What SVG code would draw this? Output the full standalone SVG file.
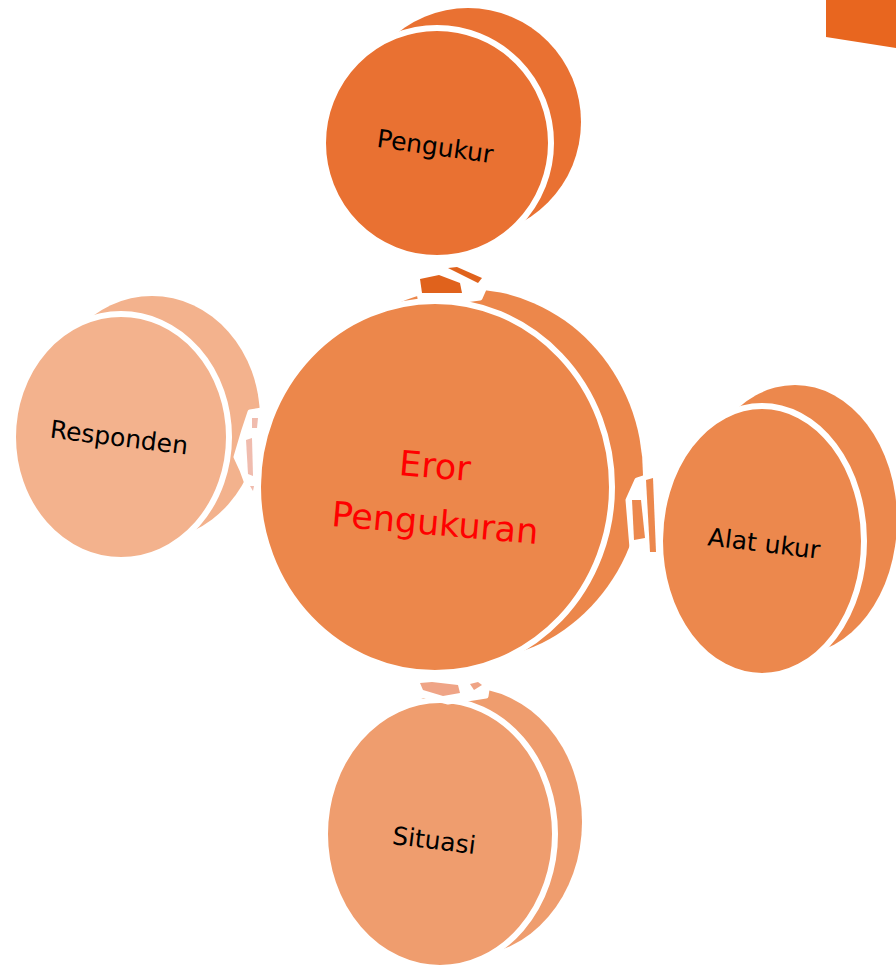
<svg xmlns="http://www.w3.org/2000/svg" width="896" height="970" viewBox="0 0 896 970">
  <style>
    .rim { stroke: none; }
    .face { stroke: #ffffff; stroke-width: 6; }
    .lbl { font-family: "DejaVu Sans", Verdana, sans-serif; font-size: 25px; fill: #000000; text-anchor: middle; }
    .hub { font-family: "DejaVu Sans", Verdana, sans-serif; font-size: 35px; fill: #ff0000; text-anchor: middle; }
    .conn { stroke: #ffffff; stroke-width: 5; stroke-linejoin: round; }
  </style>

  <!-- corner tab -->
  <polygon points="826,0 896,0 896,48 826,37" fill="#e8661f"/>

  <!-- Responden -->
  <g id="node-responden">
    <ellipse class="rim" cx="152" cy="418" rx="108" ry="122" fill="#f3b28d"/>
    <ellipse class="face" cx="121" cy="437" rx="108" ry="123" fill="#f3b28d"/>
    <text class="lbl" transform="translate(118,446) rotate(7)">Responden</text>
  </g>

  <!-- Alat ukur -->
  <g id="node-alat-ukur">
    <ellipse class="rim" cx="795" cy="520" rx="102" ry="135" fill="#ec884d"/>
    <ellipse class="face" cx="762" cy="541" rx="102" ry="135" fill="#ec884d"/>
    <text class="lbl" transform="translate(763,552) rotate(7)">Alat ukur</text>
  </g>

  <!-- Situasi -->
  <g id="node-situasi">
    <ellipse class="rim" cx="467" cy="822" rx="115" ry="134" fill="#ef9d6e"/>
    <ellipse class="face" cx="440" cy="834" rx="115" ry="134" fill="#ef9d6e"/>
    <text class="lbl" transform="translate(433,849) rotate(7)">Situasi</text>
  </g>

  <!-- Eror Pengukuran (hub) -->
  <g id="node-hub">
    <ellipse class="rim" cx="466" cy="475" rx="177" ry="186" fill="#ec874b"/>
    <ellipse class="face" cx="435" cy="487" rx="177" ry="186" fill="#ec874b"/>
    <text class="hub" transform="translate(434,478) rotate(5)">Eror</text>
    <text class="hub" transform="translate(434,535) rotate(5)">Pengukuran</text>
  </g>

  <!-- Pengukur -->
  <g id="node-pengukur">
    <ellipse class="rim" cx="468" cy="122" rx="113" ry="114" fill="#e97132"/>
    <ellipse class="face" cx="437" cy="143" rx="114" ry="115" fill="#e97132"/>
    <text class="lbl" transform="translate(434,155) rotate(8)">Pengukur</text>
  </g>

  <!-- connectors -->
  <g id="connectors">
    <g id="conn-top">
      <polygon class="conn" points="416,276 444,266 488,280 480,298 465,300 420,298" fill="#ffffff"/>
      <polygon points="420,279 439,275 460,283 462,293 422,293" fill="#e0621c"/>
      <polygon points="448,268 457,267 482,278 478,283" fill="#e0621c"/>
    </g>
    <g id="conn-left">
      <polygon class="conn" points="250,412 262,410 258,490 250,492 242,470 236,457 244,430" fill="#ffffff"/>
      <polygon points="252,418 258,418 257,428 252,428" fill="#f0bcae"/>
      <polygon points="246,440 252,438 253,476 248,474" fill="#f0bcae"/>
      <polygon points="250,486 254,486 253,491" fill="#f0bcae"/>
    </g>
    <g id="conn-right">
      <polygon class="conn" points="637,480 652,475 662,500 660,545 652,560 632,548 628,500" fill="#ffffff"/>
      <polygon points="632,500 641,500 645,538 634,540" fill="#ec884d"/>
      <polygon points="646,480 653,478 656,552 650,552" fill="#ec884d"/>
    </g>
    <g id="conn-bottom">
      <polygon class="conn" points="412,682 430,676 462,680 488,683 486,696 448,702 420,694 404,692" fill="#ffffff"/>
      <polygon points="420,683 432,682 458,685 460,693 443,696 423,690" fill="#efa486"/>
      <polygon points="470,684 478,682 482,685 474,690" fill="#efa486"/>
    </g>
  </g>
</svg>
